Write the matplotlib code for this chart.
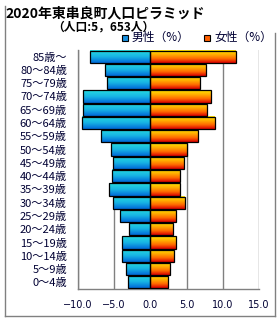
import numpy as np
import matplotlib
matplotlib.use("Agg")
import matplotlib.pyplot as plt
from matplotlib.colors import LinearSegmentedColormap
from matplotlib.lines import Line2D

plt.rcParams["font.family"] = ["Noto Sans CJK JP", "DejaVu Sans"]

# age groups from youngest (bottom) to oldest (top)
ages = ["0～4歳", "5～9歳", "10～14歳", "15～19歳", "20～24歳", "25～29歳",
        "30～34歳", "35～39歳", "40～44歳", "45～49歳", "50～54歳", "55～59歳",
        "60～64歳", "65～69歳", "70～74歳", "75～79歳", "80～84歳", "85歳～"]
male = [3.1, 3.35, 3.9, 3.9, 3.0, 4.2, 5.15, 5.7, 5.3, 5.15, 5.4, 6.8,
        9.4, 9.3, 9.3, 6.0, 6.25, 8.35]
female = [2.45, 2.7, 3.25, 3.55, 3.1, 3.55, 4.75, 4.1, 4.1, 4.65, 5.05, 6.55,
          8.9, 7.8, 8.35, 6.8, 7.65, 11.8]
xticks = [-10, -5, 0, 5, 10, 15]

W, H = 280, 320
fig = plt.figure(figsize=(W / 100, H / 100), dpi=100)
ax = fig.add_axes([78 / W, 1 - 289 / H, 181 / W, 239 / H])

male_cmap = LinearSegmentedColormap.from_list("m", ["#0068d8", "#18b4e4", "#26dce0"])
female_cmap = LinearSegmentedColormap.from_list("f", ["#d80000", "#ff6a00", "#ffb000", "#ffe400"])
grad = np.linspace(0, 1, 64).reshape(-1, 1)

h = 0.92
for i in range(len(ages)):
    y0, y1 = i - h / 2, i + h / 2
    ax.imshow(grad, cmap=male_cmap, extent=(-male[i], 0, y0, y1), origin="lower",
              aspect="auto", interpolation="bilinear", zorder=2)
    ax.imshow(grad, cmap=female_cmap, extent=(0, female[i], y0, y1), origin="lower",
              aspect="auto", interpolation="bilinear", zorder=2)
y = np.arange(len(ages))
ax.barh(y, [-v for v in male], height=h, facecolor="none", edgecolor="black", linewidth=0.9, zorder=3)
ax.barh(y, female, height=h, facecolor="none", edgecolor="black", linewidth=0.9, zorder=3)

ax.set_xlim(-10, 15)
ax.set_ylim(-0.5, len(ages) - 0.5)
ax.set_xticks(xticks)
ax.set_xticklabels([f"{v:.1f}".replace("-", "−") for v in xticks], fontsize=7, color="#000033",
                   family="DejaVu Sans")
ax.set_yticks(y)
ax.set_yticklabels(ages, fontsize=8, color="#000033")
ax.tick_params(length=0)
ax.tick_params(axis="x", pad=8)
ax.tick_params(axis="y", pad=8)
ax.grid(axis="x", color="#808080", linewidth=1.0, zorder=1)
ax.set_axisbelow(True)
for s in ["top", "right"]:
    ax.spines[s].set_visible(False)
for s in ["left", "bottom"]:
    ax.spines[s].set_color("#808080")
    ax.spines[s].set_linewidth(1.0)

# outer frame
def px(x, yy):
    return x / W, 1 - yy / H

for (xa, ya), (xb, yb) in [((5, 6), (5, 316)), ((5, 316), (275, 316)), ((275, 33), (275, 316))]:
    (fx0, fy0), (fx1, fy1) = px(xa, ya), px(xb, yb)
    fig.add_artist(Line2D([fx0, fx1], [fy0, fy1], color="#808080", linewidth=1.0))

fig.text(5 / W, 1 - 13 / H, "2020年東串良町人口ピラミッド", fontsize=10, fontweight="bold",
         va="center", ha="left")
fig.text(103 / W, 1 - 27 / H, "（人口:5，653人）", fontsize=8.5, fontweight="bold",
         va="center", ha="center")

# legend
fig.add_artist(plt.Rectangle(px(122, 41), 6 / W, 6 / H, facecolor="#1890e0", edgecolor="black",
                             linewidth=0.8))
fig.text(132 / W, 1 - 37.5 / H, "男性（%）", fontsize=8.5, va="center", ha="left", color="#000033")
fig.add_artist(plt.Rectangle(px(204, 41), 6 / W, 6 / H, facecolor="#ff6000", edgecolor="black",
                             linewidth=0.8))
fig.text(214 / W, 1 - 37.5 / H, "女性（%）", fontsize=8.5, va="center", ha="left", color="#000033")

fig.savefig("out.png", dpi=100)
